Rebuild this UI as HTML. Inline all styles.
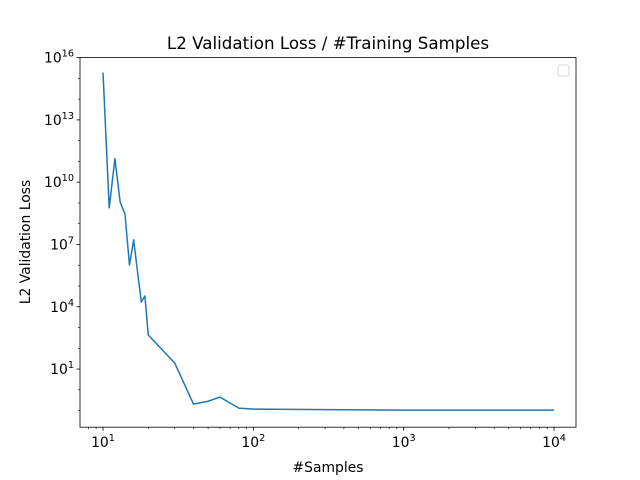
<!DOCTYPE html>
<html><head><meta charset="utf-8"><style>body{margin:0;background:#fff}svg{display:block;font-family:"DejaVu Sans","Liberation Sans",sans-serif}</style></head>
<body>
<svg id="c" width="640" height="480"></svg>
<script>
const xs=[10,11,12,13,14,15,16,17,18,19,20,30,40,50,60,80,100,1000,10000];
const logLoss=[15.28,8.76,11.13,9.05,8.47,6.01,7.22,5.63,4.23,4.52,2.64,1.29,-0.69,-0.55,-0.35,-0.88,-0.93,-0.98,-0.98];
const xTickExps=[1,2,3,4];
const yTickExps=[1,4,7,10,13,16];
const L=80,R=576,T=57.6,B=427.2;
const xmin=0.847,xmax=4.146,ymin=-1.8,ymax=16;
const X=v=>L+(Math.log10(v)-xmin)/(xmax-xmin)*(R-L);
const Ye=e=>B-(e-ymin)/(ymax-ymin)*(B-T);
const ns="http://www.w3.org/2000/svg",svg=document.getElementById('c');
function mk(t,a,p){const e=document.createElementNS(ns,t);for(const k in a)e.setAttribute(k,a[k]);(p||svg).appendChild(e);return e;}
const fr=mk('rect',{x:L,y:T,width:R-L,height:B-T,fill:'none',stroke:'#000','stroke-width':0.8});


for(let d=0;d<=4;d++){for(let m=1;m<10;m++){const v=m*Math.pow(10,d);const x=X(v);if(x<L||x>R)continue;
 const major=m===1;const t=mk('line',{x1:x,x2:x,y1:B,y2:B+(major?3.5:2),stroke:'#000','stroke-width':major?0.8:0.6});
 
 }}
xTickExps.forEach(e=>{const t=mk('text',{x:X(Math.pow(10,e)),y:B+20,'text-anchor':'middle','font-size':13.9});
 
 
 t.innerHTML='10<tspan dy="-6" font-size="9.7">'+e+'</tspan>';});
for(let e=-1;e<=16;e++){const y=Ye(e);const major=yTickExps.includes(e);
 const t=mk('line',{x1:L,x2:L-(major?3.5:2),y1:y,y2:y,stroke:'#000','stroke-width':major?0.8:0.6});
 
 }
yTickExps.forEach(e=>{const t=mk('text',{x:L-6,y:Ye(e)+5,'text-anchor':'end','font-size':13.9});
 
 
 t.innerHTML='10<tspan dy="-6" font-size="9.7">'+e+'</tspan>';});
const pl=mk('polyline',{points:xs.map((v,i)=>X(v)+','+Ye(logLoss[i])).join(' '),fill:'none',stroke:'#1f77b4','stroke-width':1.5,'stroke-linejoin':'round'});


const tt=mk('text',{x:(L+R)/2,y:49,'text-anchor':'middle','font-size':16.7});tt.textContent='L2 Validation Loss / #Training Samples';


const xl=mk('text',{x:(L+R)/2,y:472,'text-anchor':'middle','font-size':13.9});xl.textContent='#Samples';


const yl=mk('text',{x:0,y:0,'text-anchor':'middle','font-size':13.9,transform:'translate(30,242) rotate(-90)'});yl.textContent='L2 Validation Loss';


const lg=mk('rect',{x:558,y:65,width:11,height:11,rx:2,fill:'#fff',stroke:'#ccc','stroke-width':0.8});


</script>
</body></html>
